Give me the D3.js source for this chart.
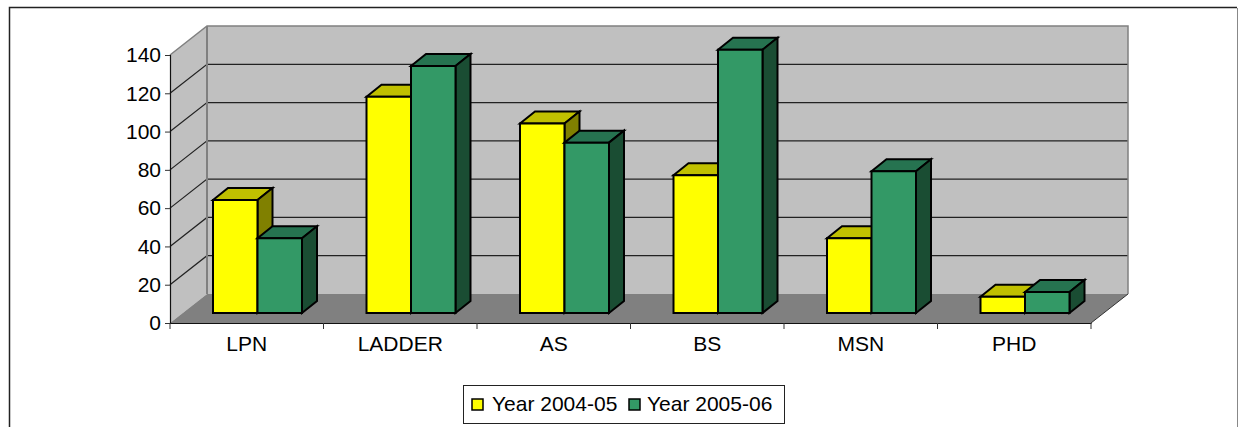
<!DOCTYPE html>
<html>
<head>
<meta charset="utf-8">
<script src="https://cdn.jsdelivr.net/npm/d3@7"></script>
<style>
html,body{margin:0;padding:0;background:#fff}
svg{display:block}
text{font-family:"Liberation Sans",Arial,sans-serif;fill:#000}
</style>
</head>
<body>
<svg id="chart" width="1238" height="427"></svg>
<script>
const categories = ['LPN','LADDER','AS','BS','MSN','PHD'];
const year1 = [59,113,99,72,39,8.5];
const year2 = [39,129,89,137.5,74,11];
const seriesNames = ['Year 2004-05','Year 2005-06'];
const yTicks = [0,20,40,60,80,100,120,140];

const svg = d3.select('#chart');
const fontSize = 21;

// outer frame of the chart
svg.append('path')
    .attr('d','M9.5,427V7.5H1237')
    .attr('fill','none').attr('stroke','#222').attr('stroke-width',1.5);
svg.append('path')
    .attr('d','M1237.5,8V427')
    .attr('fill','none').attr('stroke','#888');

const scaleX = d3.scaleBand().domain(categories).range([170,1091]);
const scaleY = d3.scaleLinear().domain([0,140]).range([323,55]);
const depthX = 37, depthY = -29;
const x0 = scaleX.range()[0], x1 = scaleX.range()[1];
const yBase = scaleY(0), yTop = scaleY(140);

function poly(sel,pts,fill,stroke,w){
    return sel.append('polygon')
        .attr('points',pts.map(p=>p.join(',')).join(' '))
        .attr('fill',fill)
        .attr('stroke',stroke||'none')
        .attr('stroke-width',w||1)
        .attr('stroke-linejoin','miter');
}

// walls and floor
const walls = svg.append('g');
poly(walls,[[x0,yBase],[x0+depthX,yBase+depthY],[x0+depthX,yTop+depthY],[x0,yTop]],'#c0c0c0');
poly(walls,[[x0+depthX,yBase+depthY],[x1+depthX,yBase+depthY],[x1+depthX,yTop+depthY],[x0+depthX,yTop+depthY]],'#c0c0c0');
poly(walls,[[x0,yBase],[x1,yBase],[x1+depthX,yBase+depthY],[x0+depthX,yBase+depthY]],'#808080');

// gridlines
yTicks.filter(d=>d>0 && d<140).forEach(d=>{
    walls.append('path')
        .attr('d',`M${x0},${scaleY(d)}L${x0+depthX},${scaleY(d)+depthY}H${x1+depthX}`)
        .attr('fill','none').attr('stroke','#222').attr('stroke-width',1.2);
});
walls.append('path')
    .attr('d',`M${x0},${yTop}L${x0+depthX},${yTop+depthY}H${x1+depthX}V${yBase+depthY}`)
    .attr('fill','none').attr('stroke','#808080').attr('stroke-width',1.5);
walls.append('path')
    .attr('d',`M${x0+depthX},${yTop+depthY}V${yBase+depthY}`)
    .attr('fill','none').attr('stroke','#808080').attr('stroke-width',2);
walls.append('path')
    .attr('d',`M${x1},${yBase}L${x1+depthX},${yBase+depthY}`)
    .attr('fill','none').attr('stroke','#333').attr('stroke-width',1);

// axes
const axisY = d3.axisLeft(scaleY).tickValues(yTicks).tickSize(5).tickPadding(4);
const gy = svg.append('g').attr('transform',`translate(${x0},0)`).call(axisY);
const axisX = d3.axisBottom(scaleX).tickSize(0).tickPadding(13);
const gx = svg.append('g').attr('transform',`translate(0,${yBase})`).call(axisX);
const edges = categories.map(c=>scaleX(c)).concat([x1]);
gx.selectAll('line.edge').data(edges).join('line')
    .attr('class','edge')
    .attr('x1',d=>d).attr('x2',d=>d).attr('y1',0).attr('y2',6)
    .attr('stroke','#333');
[gy,gx].forEach(g=>{
    g.selectAll('text').style('font-size',fontSize+'px').style('font-family','"Liberation Sans",Arial,sans-serif');
    g.selectAll('path.domain').attr('stroke','#111').attr('stroke-width',1.2);
});
gy.selectAll('line').attr('stroke','#333');

// bars, drawn from the front face with a small box depth
const barW = 44.5, barDx = 15, barDy = -12, barShiftX = 43, barBase = yBase-10;
const colors = [
    {front:'#ffff00',top:'#c0c000',side:'#808000'},
    {front:'#339966',top:'#267350',side:'#1a4d33'}
];
const scaleH = v => yBase-scaleY(v);

function drawBar(g,x,v,c){
    const y = barBase-scaleH(v);
    poly(g,[[x,y],[x+barDx,y+barDy],[x+barW+barDx,y+barDy],[x+barW,y]],c.top,'#000',2);
    poly(g,[[x+barW,y],[x+barW+barDx,y+barDy],[x+barW+barDx,barBase+barDy],[x+barW,barBase]],c.side,'#000',2);
    poly(g,[[x,y],[x+barW,y],[x+barW,barBase],[x,barBase]],c.front,'#000',2);
}
const bars = svg.append('g');
categories.forEach((c,i)=>{
    const x = scaleX(c)+barShiftX;
    drawBar(bars,x,year1[i],colors[0]);
    drawBar(bars,x+barW,year2[i],colors[1]);
});

// legend
const legend = svg.append('g');
legend.append('rect').attr('x',463.5).attr('y',385.5).attr('width',321).attr('height',38)
    .attr('fill','#fff').attr('stroke','#222');
seriesNames.forEach((name,i)=>{
    const lx = 472+i*157;
    legend.append('rect').attr('x',lx).attr('y',399).attr('width',11).attr('height',11)
        .attr('fill',colors[i].front).attr('stroke','#000').attr('stroke-width',1.5);
    legend.append('text').attr('x',492+i*155).attr('y',410.5).style('font-size',fontSize+'px').text(name);
});
</script>
</body>
</html>
